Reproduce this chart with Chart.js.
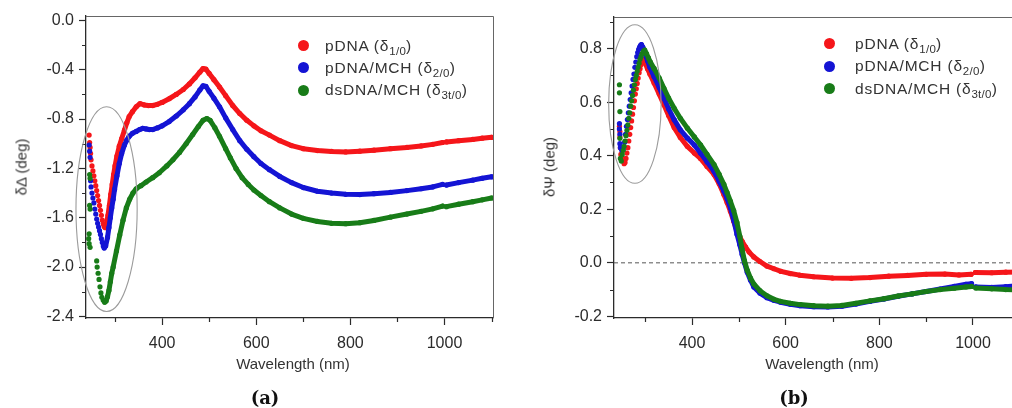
<!DOCTYPE html>
<html>
<head>
<meta charset="utf-8">
<script src="https://cdn.jsdelivr.net/npm/chart.js@4.4.1/dist/chart.umd.min.js"></script>
<style>
  html, body { margin: 0; padding: 0; background: #fff; }
  body { width: 1012px; height: 408px; overflow: hidden; position: relative;
         font-family: "Liberation Sans", Arial, sans-serif; color: #333; }
  canvas { position: absolute; top: 0; }
  #chartDelta { left: 0; }
  #chartPsi { left: 528px; }
  .title { position: absolute; white-space: nowrap; font-size: 15px; color: #333; }
  .ytitle { transform: translate(-50%, -50%) rotate(-90deg); }
  .xtitle { transform: translate(-50%, -50%); }
  .panel { position: absolute; transform: translate(-50%, -50%); white-space: nowrap;
           font: bold 18px "DejaVu Serif", serif; color: #111; }
  .legend-row { position: absolute; white-space: nowrap; height: 20px; line-height: 20px;
                font-size: 15.5px; letter-spacing: 0.8px; color: #333; }
  .legend-row i { position: absolute; width: 11px; height: 11px; border-radius: 50%; top: 4.5px; }
  .legend-row sub { font-size: 11.5px; vertical-align: -4px; line-height: 0; letter-spacing: 0.3px; }
</style>
</head>
<body>
<canvas id="chartDelta" width="503" height="380"></canvas>
<canvas id="chartPsi" width="500" height="380"></canvas>

<div class="title ytitle" style="left:21px; top:167px;">δΔ (deg)</div>
<div class="title xtitle" style="left:293px; top:363px;">Wavelength (nm)</div>
<div class="panel" style="left:265px; top:397px;">(a)</div>

<div class="title ytitle" style="left:549px; top:167px;">δΨ (deg)</div>
<div class="title xtitle" style="left:822px; top:363px;">Wavelength (nm)</div>
<div class="panel" style="left:794px; top:397px;">(b)</div>

<script>
// ---- axis ticks ----
const wavelengthTicks = [400, 600, 800, 1000];
const wavelengthMinor = [300, 500, 700, 900, 1100];
const deltaTicks = [-2.4, -2.0, -1.6, -1.2, -0.8, -0.4, 0.0];
const deltaMinor = [-2.2, -1.8, -1.4, -1.0, -0.6, -0.2];
const psiTicks = [-0.2, 0.0, 0.2, 0.4, 0.6, 0.8];
const psiMinor = [-0.1, 0.1, 0.3, 0.5, 0.7, 0.9];

// ---- series ----
const seriesNames = ['pDNA', 'pDNA/MCH', 'dsDNA/MCH'];
const seriesSubs = ['1/0', '2/0', '3t/0'];
const seriesColors = ['#f5161a', '#1414d4', '#187c18'];

// δΔ spectra, [wavelength (nm), δΔ (deg)]; null = detector switch at 1000 nm
const deltaPDNA = [
  [245,-0.93],[246,-0.99],[247,-1.03],[248,-1.08],[249,-1.13],[251,-1.18],[253,-1.22],[255,-1.26],
  [257,-1.30],[259,-1.34],[261,-1.38],[263,-1.42],[265,-1.46],[267,-1.50],[269,-1.54],[271,-1.58],
  [273,-1.62],[275,-1.65],[277,-1.67],[279,-1.68],[282,-1.65],[285,-1.58],[288,-1.50],[291,-1.41],
  [294,-1.33],[297,-1.25],[300,-1.18],[304,-1.10],[309,-1.02],[314,-0.96],[320,-0.89],[325,-0.83],
  [330,-0.78],[337,-0.74],[345,-0.70],[353,-0.675],[362,-0.685],[371,-0.69],[380,-0.69],[390,-0.68],
  [400,-0.665],[415,-0.635],[430,-0.60],[445,-0.56],[458,-0.515],[470,-0.465],[480,-0.42],[487,-0.39],
  [493,-0.395],[500,-0.43],[510,-0.48],[522,-0.54],[535,-0.61],[550,-0.69],[565,-0.755],[580,-0.81],
  [595,-0.855],[610,-0.895],[628,-0.93],[650,-0.975],[675,-1.015],[700,-1.04],[730,-1.055],[760,-1.062],
  [790,-1.066],[820,-1.06],[850,-1.052],[885,-1.04],[920,-1.03],[950,-1.018],[975,-1.005],[996,-0.99],
  [1000,null],[1004,-0.985],[1030,-0.975],[1060,-0.965],[1080,-0.955],[1100,-0.948]
];
const deltaPDNAMCH = [
  [245,-1.01],[246,-1.06],[247,-1.11],[248,-1.30],[249,-1.35],[251,-1.40],[253,-1.44],[255,-1.48],
  [257,-1.53],[259,-1.57],[261,-1.61],[263,-1.645],[265,-1.675],[267,-1.705],[269,-1.735],[271,-1.77],
  [273,-1.80],[275,-1.83],[277,-1.845],[280,-1.83],[284,-1.76],[287,-1.68],[290,-1.60],[293,-1.52],
  [296,-1.45],[299,-1.37],[304,-1.26],[309,-1.16],[314,-1.08],[320,-1.01],[325,-0.97],[330,-0.94],
  [337,-0.915],[345,-0.90],[352,-0.885],[359,-0.875],[366,-0.88],[373,-0.885],[380,-0.885],[390,-0.872],
  [400,-0.855],[415,-0.82],[430,-0.775],[445,-0.725],[458,-0.675],[470,-0.62],[480,-0.565],[487,-0.53],
  [493,-0.535],[500,-0.575],[510,-0.63],[522,-0.70],[535,-0.79],[550,-0.885],[565,-0.975],[580,-1.045],
  [595,-1.105],[610,-1.16],[628,-1.21],[650,-1.265],[675,-1.315],[700,-1.355],[730,-1.385],[760,-1.40],
  [790,-1.41],[820,-1.412],[850,-1.405],[885,-1.395],[920,-1.38],[950,-1.365],[975,-1.35],[996,-1.33],
  [1000,null],[1004,-1.335],[1030,-1.315],[1060,-1.295],[1080,-1.28],[1100,-1.268]
];
const deltaDsDNAMCH = [
  [246,-1.25],[247,-1.28],[246,-1.50],[247,-1.53],[245,-1.73],[244,-1.77],[245,-1.81],[247,-1.84],
  [261,-1.95],[262,-2.00],[264,-2.05],[266,-2.10],[268,-2.16],[270,-2.21],[272,-2.245],[275,-2.27],
  [278,-2.285],[281,-2.275],[284,-2.24],[287,-2.19],[290,-2.12],[293,-2.05],[296,-2.00],[303,-1.87],
  [310,-1.74],[317,-1.62],[324,-1.52],[331,-1.45],[338,-1.40],[345,-1.365],[355,-1.34],[366,-1.31],
  [380,-1.275],[394,-1.235],[410,-1.18],[423,-1.13],[437,-1.07],[451,-1.00],[465,-0.925],[477,-0.86],
  [487,-0.81],[495,-0.795],[502,-0.81],[512,-0.87],[522,-0.94],[535,-1.04],[545,-1.115],[557,-1.20],
  [570,-1.275],[583,-1.33],[595,-1.375],[610,-1.42],[628,-1.47],[650,-1.52],[675,-1.57],[700,-1.605],
  [730,-1.63],[760,-1.645],[790,-1.648],[820,-1.64],[850,-1.622],[885,-1.595],[920,-1.57],[950,-1.548],
  [975,-1.528],[996,-1.505],[1000,null],[1004,-1.51],[1030,-1.49],[1060,-1.47],[1080,-1.455],[1100,-1.44]
];

// δΨ spectra, [wavelength (nm), δΨ (deg)]
const psiPDNA = [
  [245,0.51],[246,0.49],[246,0.47],[247,0.43],[248,0.405],[252,0.39],[255,0.37],[257,0.375],
  [259,0.39],[261,0.41],[263,0.43],[265,0.455],[267,0.48],[269,0.505],[271,0.53],[273,0.555],
  [275,0.58],[277,0.605],[279,0.63],[281,0.65],[283,0.67],[285,0.69],[287,0.71],[289,0.725],
  [291,0.74],[293,0.75],[296,0.76],[300,0.745],[305,0.725],[310,0.705],[319,0.672],[330,0.63],
  [340,0.59],[350,0.55],[362,0.505],[375,0.468],[390,0.435],[405,0.41],[418,0.39],[432,0.36],
  [447,0.33],[458,0.295],[468,0.255],[475,0.225],[482,0.193],[489,0.155],[496,0.119],[502,0.097],
  [507,0.08],[514,0.06],[522,0.04],[532,0.022],[545,0.005],[560,-0.012],[575,-0.022],[590,-0.032],
  [610,-0.04],[630,-0.046],[660,-0.052],[700,-0.057],[740,-0.058],[780,-0.055],[820,-0.05],[860,-0.047],
  [900,-0.043],[940,-0.042],[970,-0.045],[996,-0.043],[1000,null],[1005,-0.036],[1040,-0.037],[1070,-0.035],
  [1100,-0.034]
];
const psiPDNAMCH = [
  [245,0.52],[245,0.50],[246,0.48],[246,0.445],[247,0.43],[250,0.42],[253,0.425],[256,0.45],
  [258,0.48],[260,0.51],[262,0.535],[264,0.56],[266,0.585],[268,0.61],[270,0.635],[272,0.66],
  [274,0.685],[276,0.705],[278,0.73],[280,0.75],[282,0.77],[284,0.785],[286,0.797],[288,0.806],
  [290,0.812],[292,0.815],[295,0.805],[300,0.78],[305,0.755],[310,0.73],[319,0.695],[330,0.655],
  [340,0.615],[350,0.575],[362,0.534],[375,0.497],[390,0.466],[405,0.44],[418,0.41],[432,0.377],
  [447,0.342],[458,0.305],[468,0.268],[475,0.24],[482,0.206],[489,0.16],[496,0.107],[502,0.068],
  [507,0.032],[512,0.0],[518,-0.035],[525,-0.065],[532,-0.09],[545,-0.113],[560,-0.13],[575,-0.14],
  [589,-0.147],[610,-0.155],[631,-0.16],[660,-0.164],[690,-0.165],[720,-0.162],[750,-0.154],[780,-0.144],
  [810,-0.135],[840,-0.125],[870,-0.116],[900,-0.107],[930,-0.098],[960,-0.088],[985,-0.08],[997,-0.078],
  [1000,null],[1006,-0.09],[1040,-0.092],[1070,-0.089],[1100,-0.085]
];
const psiDsDNAMCH = [
  [245,0.665],[245,0.635],[246,0.565],[246,0.465],[247,0.39],[249,0.38],[251,0.405],[253,0.42],
  [255,0.435],[257,0.455],[259,0.475],[261,0.495],[263,0.515],[265,0.54],[267,0.56],[269,0.585],
  [271,0.605],[273,0.625],[275,0.645],[277,0.665],[279,0.685],[281,0.70],[283,0.715],[285,0.73],
  [287,0.745],[289,0.76],[291,0.77],[293,0.78],[296,0.79],[299,0.794],[303,0.78],[307,0.765],
  [311,0.75],[319,0.726],[330,0.69],[340,0.652],[350,0.615],[362,0.577],[375,0.54],[390,0.503],
  [405,0.47],[418,0.441],[432,0.405],[447,0.367],[458,0.33],[468,0.293],[475,0.262],[482,0.23],
  [489,0.195],[496,0.15],[502,0.10],[507,0.05],[512,0.008],[518,-0.028],[525,-0.057],[532,-0.079],
  [545,-0.104],[560,-0.123],[575,-0.136],[589,-0.144],[610,-0.151],[631,-0.156],[660,-0.16],[690,-0.162],
  [720,-0.159],[750,-0.151],[780,-0.142],[810,-0.134],[840,-0.124],[870,-0.116],[900,-0.107],[930,-0.10],
  [960,-0.095],[985,-0.09],[997,-0.088],[1000,null],[1006,-0.094],[1040,-0.097],[1070,-0.10],[1100,-0.101]
];

// below these wavelengths the spectra are shown as separate dots only
const dotsOnlyBelowDelta = [279, 277, 278];
const dotsOnlyBelowPsi = [296, 292, 299];

// highlighted UV region: centre (nm, deg) and half-axes (nm, deg)
const uvRegionDelta = { x: 282, y: -1.53, rx: 65, ry: 0.83 };
const uvRegionPsi = { x: 278, y: 0.593, rx: 56, ry: 0.296 };

const AXIS = '#2b2b2b';
const TICK_FONT = { family: '"Liberation Sans", Arial, sans-serif', size: 16 };

const decorPlugin = {
  id: 'decor',
  beforeDatasetsDraw(chart, args, opts) {
    if (opts.zeroLine == null) return;
    const { ctx, chartArea: a } = chart;
    const y = chart.scales.y.getPixelForValue(opts.zeroLine);
    ctx.save();
    ctx.strokeStyle = '#555';
    ctx.lineWidth = 1;
    ctx.setLineDash([4, 3]);
    ctx.beginPath();
    ctx.moveTo(a.left, y);
    ctx.lineTo(a.right, y);
    ctx.stroke();
    ctx.restore();
  },
  afterDraw(chart, args, opts) {
    const { ctx, chartArea: a } = chart;
    const xs = chart.scales.x, ys = chart.scales.y;
    ctx.save();
    // box: top and right edges
    ctx.strokeStyle = '#666';
    ctx.lineWidth = 1;
    ctx.beginPath();
    ctx.moveTo(a.left, a.top + 0.5);
    ctx.lineTo(a.right + 0.5, a.top + 0.5);
    ctx.lineTo(a.right + 0.5, a.bottom);
    ctx.stroke();
    // minor ticks
    ctx.strokeStyle = AXIS;
    ctx.lineWidth = 1.2;
    ctx.beginPath();
    opts.minorX.forEach(v => {
      const x = Math.round(xs.getPixelForValue(v)) + 0.5;
      ctx.moveTo(x, a.bottom);
      ctx.lineTo(x, a.bottom + 4);
    });
    opts.minorY.forEach(v => {
      const y = Math.round(ys.getPixelForValue(v)) + 0.5;
      ctx.moveTo(a.left, y);
      ctx.lineTo(a.left - 4, y);
    });
    ctx.stroke();
    // ellipse around the UV features
    const e = opts.ellipse;
    const cx = xs.getPixelForValue(e.x), cy = ys.getPixelForValue(e.y);
    const rx = Math.abs(xs.getPixelForValue(e.x + e.rx) - cx);
    const ry = Math.abs(ys.getPixelForValue(e.y + e.ry) - cy);
    ctx.strokeStyle = '#9b9b9b';
    ctx.lineWidth = 1.1;
    ctx.beginPath();
    ctx.ellipse(cx, cy, rx, ry, 0, 0, Math.PI * 2);
    ctx.stroke();
    ctx.restore();
  }
};

function makeDataset(points, i, dotsBelow) {
  const color = seriesColors[i];
  return {
    label: seriesNames[i],
    data: points.map(([x, y]) => ({ x, y })),
    showLine: true,
    spanGaps: false,
    borderColor: color,
    backgroundColor: color,
    borderWidth: 5,
    borderCapStyle: 'round',
    borderJoinStyle: 'round',
    pointRadius: 2.6,
    pointBorderWidth: 0,
    pointHoverRadius: 0,
    order: 2 - i,
    segment: {
      borderColor: c => (c.p0.parsed.x < dotsBelow[i] ? 'rgba(0,0,0,0)' : undefined)
    }
  };
}

function xAxis(min, max) {
  return {
    type: 'linear', min, max,
    afterBuildTicks: s => { s.ticks = wavelengthTicks.map(v => ({ value: v })); },
    afterFit: s => { s.height = 62; },
    grid: { display: true, drawOnChartArea: false, drawTicks: true, tickLength: 7,
            tickColor: AXIS, tickWidth: 1.2, color: AXIS },
    border: { display: true, color: AXIS, width: 1.3 },
    ticks: { autoSkip: false, maxRotation: 0, padding: 9, color: AXIS, font: TICK_FONT,
             callback: v => String(v) }
  };
}

function yAxis(min, max, ticks) {
  return {
    type: 'linear', min, max,
    afterBuildTicks: s => { s.ticks = ticks.map(v => ({ value: v })); },
    afterFit: s => { s.width = 86; },
    grid: { display: true, drawOnChartArea: false, drawTicks: true, tickLength: 7,
            tickColor: AXIS, tickWidth: 1.2, color: AXIS },
    border: { display: true, color: AXIS, width: 1.3 },
    ticks: { autoSkip: false, padding: 5, color: AXIS, font: TICK_FONT,
             callback: v => v.toFixed(1) }
  };
}

function makeChart(id, series, dotsBelow, xr, yr, yTicks, yMinor, ellipse, zeroLine, pad) {
  return new Chart(document.getElementById(id), {
    type: 'scatter',
    data: { datasets: series.map((pts, i) => makeDataset(pts, i, dotsBelow)) },
    options: {
      responsive: false,
      animation: false,
      devicePixelRatio: 1,
      events: [],
      layout: { padding: pad },
      scales: { x: xAxis(xr[0], xr[1]), y: yAxis(yr[0], yr[1], yTicks) },
      plugins: {
        legend: { display: false },
        tooltip: { enabled: false },
        decor: { minorX: wavelengthMinor, minorY: yMinor, ellipse, zeroLine }
      }
    },
    plugins: [decorPlugin]
  });
}

makeChart('chartDelta', [deltaPDNA, deltaPDNAMCH, deltaDsDNAMCH], dotsOnlyBelowDelta,
  [238.3, 1103], [-2.413, 0.036], deltaTicks, deltaMinor, uvRegionDelta, null,
  { top: 16, right: 10, left: 0, bottom: 0 });

makeChart('chartPsi', [psiPDNA, psiPDNAMCH, psiDsDNAMCH], dotsOnlyBelowPsi,
  [233.4, 1100.4], [-0.206, 0.918], psiTicks, psiMinor, uvRegionPsi, 0,
  { top: 17, right: 8, left: 0, bottom: 0 });

// legends
function addLegend(dotX, textX, firstY, step) {
  seriesNames.forEach((name, i) => {
    const row = document.createElement('div');
    row.className = 'legend-row';
    const cy = firstY + step * i;
    row.style.left = textX + 'px';
    row.style.top = (cy - 10) + 'px';
    const dot = document.createElement('i');
    dot.style.background = seriesColors[i];
    dot.style.left = (dotX - textX - 5.5) + 'px';
    row.appendChild(dot);
    row.appendChild(document.createTextNode(name + ' (δ'));
    const sub = document.createElement('sub');
    sub.textContent = seriesSubs[i];
    row.appendChild(sub);
    row.appendChild(document.createTextNode(')'));
    document.body.appendChild(row);
  });
}
addLegend(303, 325, 45.5, 22.3);
addLegend(829, 855, 43.5, 22.5);
</script>
</body>
</html>
